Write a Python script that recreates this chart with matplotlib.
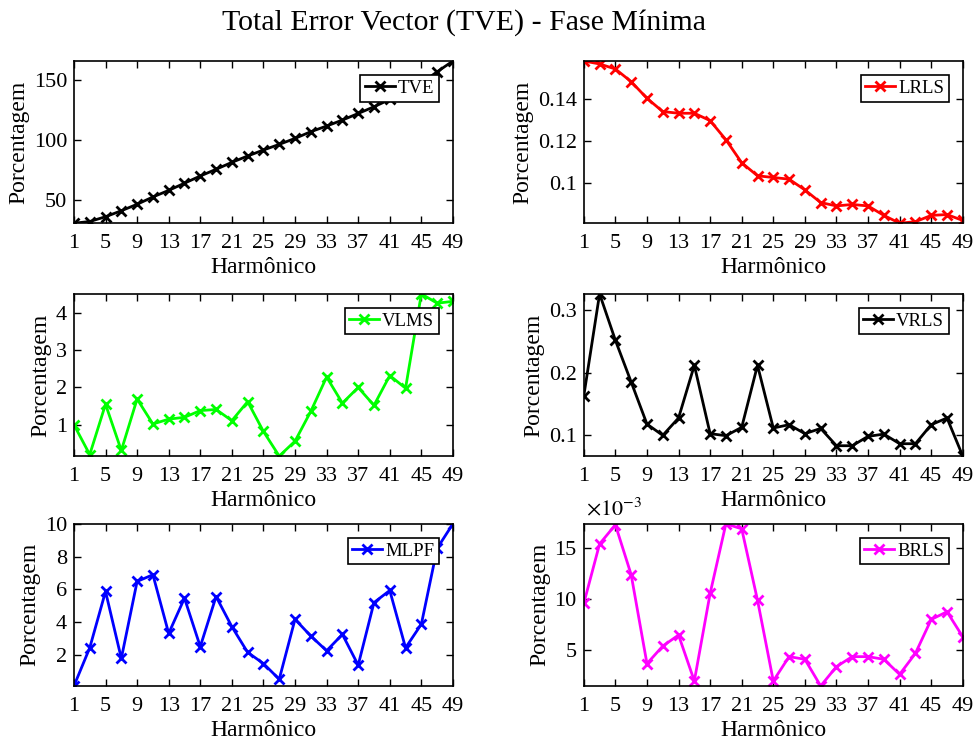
import numpy as np
import matplotlib.pyplot as plt
from matplotlib.ticker import FuncFormatter

plt.rcParams['font.family'] = ['Liberation Serif', 'DejaVu Serif']
plt.rcParams['mathtext.fontset'] = 'stix'

# harmonics 1, 3, ..., 49
harm = list(range(1, 50, 2))
xticks = list(range(1, 50, 4))

tve = [30.6, 32, 36, 41, 46.4, 52.5, 58, 64, 70, 75.6, 81.4, 86.7, 91.7,
       96.4, 101.4, 107, 111.7, 116.7, 122.2, 127.8, 133.9, 140.5, 147.5, 157, 166]
lrls = [0.158, 0.1566, 0.1542, 0.1482, 0.1403, 0.134, 0.1332, 0.1332, 0.1297,
        0.1206, 0.1097, 0.1035, 0.1027, 0.1019, 0.0968, 0.0908, 0.0892, 0.0899,
        0.0892, 0.0847, 0.081, 0.0817, 0.0847, 0.0851, 0.0823]
vlms = [1.0, 0.2, 1.55, 0.31, 1.69, 1.02, 1.15, 1.2, 1.38, 1.41, 1.11, 1.62, 0.82,
        0.16, 0.56, 1.36, 2.28, 1.58, 2.0, 1.52, 2.32, 1.98, 4.51, 4.26, 4.31]
vrls = [0.163, 0.3255, 0.2516, 0.185, 0.118, 0.1, 0.1277, 0.2117, 0.1027, 0.0995,
        0.1128, 0.2117, 0.1117, 0.117, 0.1027, 0.111, 0.0835, 0.0835, 0.0984,
        0.102, 0.0867, 0.0867, 0.117, 0.1277, 0.067]
mlpf = [0.1, 2.43, 5.87, 1.78, 6.48, 6.89, 3.31, 5.46, 2.5, 5.56, 3.72, 2.15, 1.47,
        0.51, 4.17, 3.15, 2.25, 3.25, 1.37, 5.19, 5.93, 2.43, 3.87, 8.5, 10.0]
brls = [9.58e-3, 15.42e-3, 17.3e-3, 12.4e-3, 3.66e-3, 5.39e-3, 6.47e-3, 1.96e-3,
        10.56e-3, 17.4e-3, 16.9e-3, 9.9e-3, 1.96e-3, 4.35e-3, 4.09e-3, 1.47e-3,
        3.37e-3, 4.35e-3, 4.35e-3, 4.09e-3, 2.61e-3, 4.67e-3, 8.0e-3, 8.76e-3, 6.3e-3]

names = ['TVE', 'LRLS', 'VLMS', 'VRLS', 'MLPF', 'BRLS']
colors = ['k', '#ff0000', '#00ff00', 'k', '#0000ff', '#ff00ff']
yticks = [[50, 100, 150], [0.1, 0.12, 0.14], [1, 2, 3, 4],
          [0.1, 0.2, 0.3], [2, 4, 6, 8, 10], [5e-3, 10e-3, 15e-3]]
data = [tve, lrls, vlms, vrls, mlpf, brls]

fig = plt.figure(figsize=(9.73, 7.44), dpi=100)
lefts = [0.076, 0.600]
bottoms = [0.700, 0.387, 0.078]
w, h = 0.3895, 0.218

fmt = FuncFormatter(lambda v, p: '%g' % v)
fmt_milli = FuncFormatter(lambda v, p: '%g' % round(v * 1e3, 6))

for i, vals in enumerate(data):
    name = names[i]
    ax = fig.add_axes([lefts[i % 2], bottoms[i // 2], w, h])
    ax.plot(harm, vals, color=colors[i], lw=2, marker='x', ms=6.5, mew=2, label=name)
    ax.set_xlim(1, 49)
    ax.set_ylim(min(vals), max(vals))
    ax.set_xticks(xticks)
    ax.set_yticks(yticks[i])
    ax.tick_params(direction='in', top=True, right=True, labelsize=16,
                   width=1, length=5)
    ax.tick_params(axis='x', pad=8)
    ax.tick_params(axis='y', pad=5)
    for s in ax.spines.values():
        s.set_linewidth(1.2)
    ax.set_xlabel('Harmônico', fontsize=17, labelpad=3)
    ax.set_ylabel('Porcentagem', fontsize=17, labelpad=3)
    if name == 'BRLS':
        ax.yaxis.set_major_formatter(fmt_milli)
        ax.text(0.005, 1.02, r'$\times10^{-3}$', transform=ax.transAxes,
                fontsize=16, ha='left', va='bottom')
    else:
        ax.yaxis.set_major_formatter(fmt)
    leg = ax.legend(loc='upper right', fontsize=13.5, fancybox=False, framealpha=1,
                    edgecolor='k', handlelength=1.6, handletextpad=0.15,
                    borderpad=0.25, borderaxespad=0.75)
    leg.get_frame().set_linewidth(1.2)

fig.text(0.477, 0.97, 'Total Error Vector (TVE) - Fase Mínima', ha='center',
         va='center', fontsize=21.5)

plt.savefig('out.png', dpi=100)
